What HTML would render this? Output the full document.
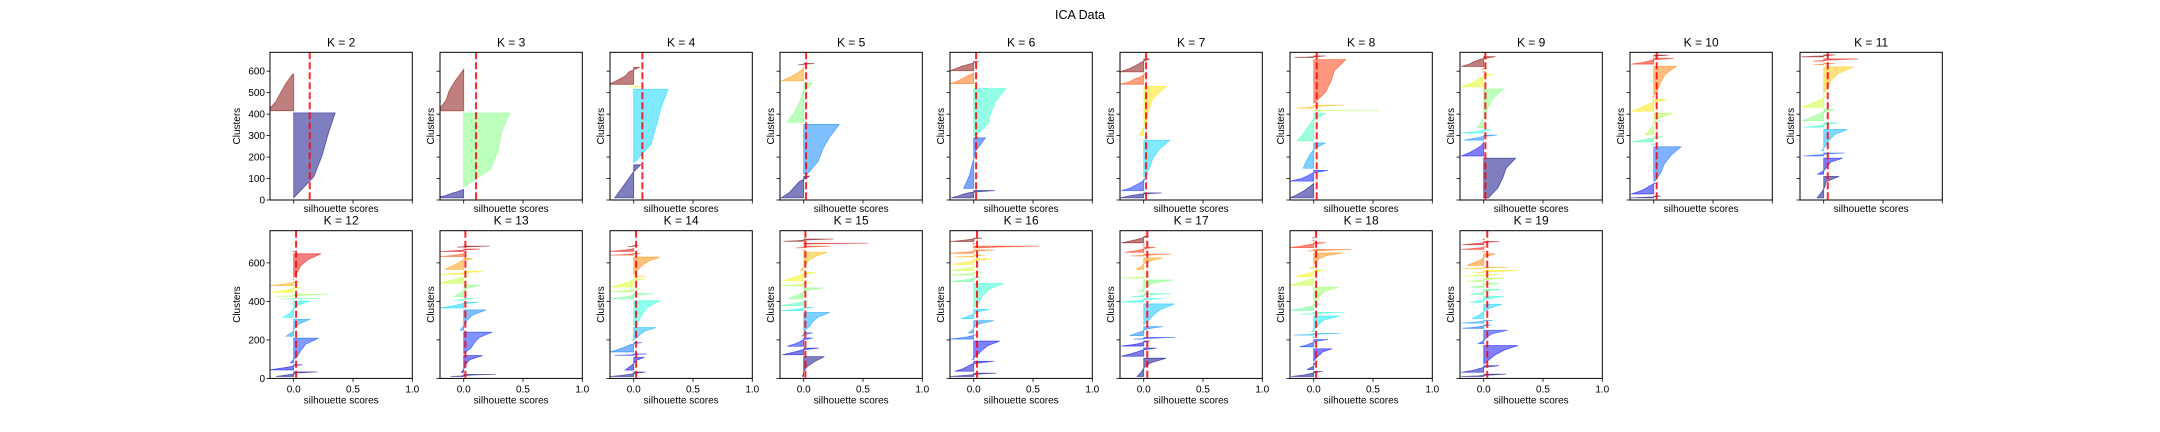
<!DOCTYPE html>
<html><head><meta charset="utf-8"><title>ICA Data</title>
<style>
html,body{margin:0;padding:0;background:#fff;}
svg{display:block;font-family:"Liberation Sans","DejaVu Sans",sans-serif;}
</style></head>
<body>
<svg id="fig" width="2160" height="432" viewBox="0 0 2160 432" xmlns="http://www.w3.org/2000/svg">
<rect width="2160" height="432" fill="#fff"/>
<text x="1080" y="19" font-size="12.5" text-anchor="middle" fill="#000">ICA Data</text>
</svg>
<script>
const kValues = [2,3,4,5,6,7,8,9,10,11,12,13,14,15,16,17,18,19];
const avgScores = [0.135,0.104,0.073,0.02,0.02,0.02,0.025,0.014,0.025,0.034,0.02,0.014,0.02,0.014,0.028,0.03,0.02,0.03];
const xTicks = [0.0,0.5,1.0];
const xTickLabels = ["0.0","0.5","1.0"];
const yTicksTop = [0,100,200,300,400,500,600];
const yTicksBottom = [0,200,400,600];

const k2Sizes=[396,170];
const k2Vals=[[0.0,0.17,0.24,0.29,0.35],[-0.22,-0.15,-0.11,-0.065,-0.01]];
const k3Sizes=[39,346,194];
const k3Vals=[[-0.25,-0.16,-0.11,-0.05,-0.005],[0.0,0.23,0.29,0.32,0.39],[-0.22,-0.15,-0.12,-0.065,0.0]];
const k4Sizes=[154,342,3,79];
const k4Vals=[[-0.16,-0.11,-0.06,-0.01,0.06],[0.005,0.146,0.19,0.23,0.29],[-0.045,0,0.02,0.05,0.085],[-0.21,-0.135,-0.07,-0.037,0.05]];
const k5Sizes=[101,231,183,65,6];
const k5Vals=[[-0.19,-0.12,-0.08,-0.037,0.05],[0.03,0.12,0.16,0.22,0.3],[-0.14,-0.08,-0.037,-0.01,0.075],[-0.19,-0.12,-0.065,-0.02,0.005],[-0.05,0,0.02,0.05,0.09]];
const k6Sizes=[34,236,219,3,50,43];
const k6Vals=[[-0.19,-0.13,-0.09,-0.03,0.18],[-0.085,-0.037,-0.01,0.02,0.1],[0.02,0.12,0.146,0.19,0.27],[-0.02,0,0,0.01,0.02],[-0.2,-0.135,-0.09,-0.05,0.005],[-0.2,-0.15,-0.1,-0.03,0.04]];
const k7Sizes=[23,54,171,3,228,48,60];
const k7Vals=[[-0.2,-0.15,-0.1,-0.03,0.15],[-0.19,-0.11,-0.065,-0.02,0.015],[0.005,0.05,0.076,0.13,0.22],[-0.01,0,0,0,0.01],[-0.04,0.02,0.04,0.076,0.19],[-0.2,-0.12,-0.08,-0.02,0.01],[-0.2,-0.12,-0.065,-0.02,0.05]];
const k8Sizes=[68,50,118,127,5,14,202,7];
const k8Vals=[[-0.2,-0.135,-0.08,-0.037,0.0],[-0.2,-0.1,-0.05,-0.01,0.12],[-0.09,-0.065,-0.037,0.0,0.1],[-0.14,-0.09,-0.05,-0.01,0.1],[-0.01,0,0.02,0.2,0.555],[-0.15,-0.05,0.0,0.1,0.26],[0.005,0.1,0.146,0.175,0.27],[-0.16,-0.05,0,0.05,0.1]];
const k9Sizes=[185,64,23,15,180,59,3,3,46];
const k9Vals=[[0.04,0.12,0.16,0.19,0.27],[-0.19,-0.12,-0.065,-0.02,0.0],[-0.17,-0.1,-0.05,0.0,0.11],[-0.19,-0.1,-0.04,0.0,0.07],[-0.056,0.005,0.034,0.076,0.165],[-0.19,-0.12,-0.065,-0.02,0.076],[-0.02,0,0,0,0.02],[-0.02,0,0,0,0.02],[-0.19,-0.12,-0.08,-0.02,0.1]];
const k10Sizes=[8,50,160,3,23,100,54,145,27,5];
const k10Vals=[[-0.2,-0.1,0,0.02,0.06],[-0.19,-0.12,-0.07,-0.037,0.014],[0.01,0.06,0.09,0.146,0.23],[-0.02,0,0,0,0.02],[-0.19,-0.12,-0.08,-0.01,0.085],[-0.07,-0.03,0.005,0.034,0.16],[-0.19,-0.12,-0.065,-0.01,0.11],[-0.01,0.034,0.06,0.1,0.19],[-0.19,-0.1,-0.05,0.0,0.17],[0.01,0.04,0.07,0.1,0.127]];
const k11Sizes=[100,75,14,100,20,53,53,125,7,10,9];
const k11Vals=[[-0.056,-0.02,0.01,0.02,0.13],[-0.05,0.005,0.03,0.06,0.16],[-0.17,-0.08,0,0.05,0.175],[-0.017,0.02,0.048,0.09,0.2],[-0.17,-0.065,0,0.05,0.124],[-0.18,-0.12,-0.065,-0.01,0.096],[-0.19,-0.12,-0.065,-0.01,0.02],[0.0,0.034,0.06,0.12,0.25],[-0.085,-0.03,0,0.05,0.1],[-0.09,0,0.05,0.15,0.29],[-0.19,-0.1,0,0.05,0.1]];
const k12Sizes=[24,27,128,88,85,4,11,25,20,3,122,3];
const k12Vals=[[-0.15,-0.08,-0.01,0.03,0.2],[-0.21,-0.13,-0.06,-0.01,0.075],[-0.03,0.03,0.06,0.1,0.21],[-0.065,-0.01,0.01,0.05,0.14],[-0.09,-0.037,0,0.034,0.14],[-0.11,0,0.05,0.1,0.23],[-0.14,0,0.05,0.15,0.29],[-0.2,-0.12,-0.06,-0.01,0.06],[-0.2,-0.12,-0.06,-0.01,0.05],[-0.01,0,0,0,0.01],[0.0,0.034,0.06,0.12,0.23],[-0.01,0,0,0,0.01]];
const k13Sizes=[11,88,111,106,29,10,59,36,16,57,16,13,5];
const k13Vals=[[-0.11,-0.02,0.02,0.1,0.27],[-0.02,0.005,0.02,0.05,0.16],[0.0,0.06,0.09,0.13,0.24],[-0.03,0.005,0.03,0.076,0.19],[-0.2,-0.12,-0.065,-0.01,0.127],[-0.085,-0.03,0,0.04,0.085],[-0.085,-0.037,0,0.034,0.14],[-0.2,-0.15,-0.093,-0.037,0.04],[-0.2,-0.1,0,0.08,0.165],[-0.16,-0.11,-0.065,-0.02,0.076],[-0.2,-0.12,-0.06,-0.02,0.005],[-0.2,-0.1,-0.03,0.05,0.14],[-0.056,0.03,0.1,0.15,0.22]];
const k14Sizes=[23,67,7,50,67,129,27,15,42,4,89,10,15,5];
const k14Vals=[[-0.2,-0.1,-0.03,0.02,0.1],[-0.073,-0.037,0,0.02,0.09],[-0.16,-0.05,0,0.05,0.11],[-0.2,-0.135,-0.08,-0.03,0.07],[-0.01,0.034,0.06,0.1,0.19],[0.02,0.048,0.076,0.12,0.22],[-0.2,-0.1,-0.04,0.0,0.17],[-0.2,-0.1,-0.03,0.0,0.06],[-0.19,-0.12,-0.065,-0.02,0.1],[0,0.03,0.05,0.08,0.1],[0.01,0.034,0.07,0.12,0.22],[-0.2,-0.1,-0.03,0.0,0.06],[-0.2,-0.12,-0.06,-0.02,0.0],[-0.05,-0.02,0,0.02,0.04]];
const k15Sizes=[103,34,43,17,95,17,24,57,17,43,95,3,9,5,12];
const k15Vals=[[-0.01,0.0,0.03,0.09,0.175],[-0.18,-0.12,-0.06,-0.01,0.127],[-0.14,-0.08,-0.037,-0.01,0.076],[-0.02,0,0.02,0.05,0.076],[0.005,0.05,0.076,0.12,0.22],[-0.19,-0.1,-0.04,0.0,0.085],[-0.19,-0.12,-0.06,-0.01,0.04],[-0.13,-0.08,-0.02,0.02,0.16],[-0.19,-0.1,-0.03,0.0,0.076],[-0.18,-0.12,-0.065,-0.017,0.1],[-0.03,0.005,0.034,0.09,0.2],[-0.01,0,0,0,0.01],[-0.065,0,0.05,0.12,0.225],[0.0,0.05,0.15,0.3,0.54],[-0.17,-0.05,0.02,0.1,0.25]];
const k16Sizes=[17,52,95,22,64,48,125,24,14,21,29,9,17,10,4,17];
const k16Vals=[[-0.2,-0.1,-0.02,0.05,0.19],[-0.16,-0.09,-0.05,-0.01,0.17],[-0.01,0.034,0.07,0.12,0.22],[-0.2,-0.12,-0.06,-0.02,0.02],[-0.045,-0.01,0.01,0.05,0.17],[-0.11,-0.05,0,0.034,0.13],[0.01,0.048,0.076,0.13,0.25],[-0.19,-0.1,-0.04,0,0.06],[-0.2,-0.1,-0.03,0,0.07],[-0.2,-0.12,-0.06,-0.01,0.02],[-0.18,-0.1,-0.03,0.03,0.16],[-0.16,-0.05,0,0.05,0.09],[-0.2,-0.1,-0.02,0.05,0.17],[0.0,0.1,0.2,0.35,0.55],[-0.01,0,0,0,0.01],[-0.2,-0.12,-0.06,-0.01,0.07]];
const k17Sizes=[95,43,26,9,46,108,17,17,60,9,3,3,60,9,26,3,34];
const k17Vals=[[-0.056,-0.02,0.005,0.06,0.19],[-0.19,-0.12,-0.06,-0.01,0.11],[-0.19,-0.1,-0.04,0,0.055],[-0.085,0,0.08,0.15,0.265],[-0.12,-0.06,-0.01,0.03,0.16],[0.0,0.05,0.09,0.146,0.26],[-0.19,-0.1,-0.03,0.02,0.16],[-0.11,-0.03,0.03,0.1,0.23],[-0.045,0.0,0.04,0.09,0.245],[-0.19,-0.1,-0.03,0,0.05],[-0.01,0,0,0,0.01],[-0.01,0,0,0,0.01],[-0.065,-0.02,0.0,0.06,0.16],[-0.11,-0.02,0.05,0.12,0.23],[-0.16,-0.08,-0.02,0.02,0.1],[-0.01,0,0,0,0.01],[-0.19,-0.12,-0.06,-0.01,0.04]];
const k18Sizes=[26,34,64,38,3,9,80,9,31,80,34,34,10,60,7,26,3,3];
const k18Vals=[[-0.19,-0.1,-0.04,0.0,0.075],[-0.056,-0.03,0,0.005,0.01],[0,0.02,0.05,0.076,0.155],[-0.12,-0.06,-0.02,0.02,0.12],[-0.01,0,0,0,0.01],[-0.17,-0.05,0.02,0.1,0.225],[-0.017,0.02,0.048,0.09,0.22],[-0.11,0,0.08,0.15,0.265],[-0.2,-0.12,-0.06,-0.01,0.06],[0.005,0.034,0.06,0.1,0.21],[-0.2,-0.15,-0.1,-0.05,0.0],[-0.16,-0.1,-0.05,0.0,0.085],[-0.037,-0.02,0,0.005,0.02],[0.0,0.02,0.05,0.1,0.245],[-0.05,0.05,0.12,0.2,0.315],[-0.2,-0.12,-0.06,0.0,0.1],[-0.01,0,0,0,0.01],[-0.01,0,0,0,0.01]];
const k19Sizes=[12,34,95,69,17,14,74,31,27,21,17,9,10,7,60,3,14,17,3];
const k19Vals=[[-0.19,-0.05,0.02,0.1,0.19],[-0.19,-0.1,-0.05,0.0,0.13],[0.005,0.05,0.1,0.175,0.29],[-0.045,0.005,0.03,0.076,0.2],[-0.18,-0.1,-0.04,0,0.06],[-0.19,-0.1,-0.04,0,0.076],[-0.1,-0.037,0.005,0.06,0.155],[-0.12,-0.04,0.02,0.08,0.175],[-0.11,-0.04,0.01,0.06,0.15],[-0.11,-0.04,0.01,0.06,0.14],[-0.14,-0.05,0.01,0.08,0.175],[-0.18,-0.05,0.02,0.08,0.13],[-0.09,0.02,0.1,0.2,0.28],[-0.18,-0.05,0.03,0.1,0.2],[-0.14,-0.08,-0.02,0.005,0.1],[-0.01,0,0,0,0.01],[-0.19,-0.1,-0.04,0,0.01],[-0.18,-0.1,-0.03,0.02,0.13],[-0.01,0,0,0,0.01]];

const allSizes=[k2Sizes,k3Sizes,k4Sizes,k5Sizes,k6Sizes,k7Sizes,k8Sizes,k9Sizes,k10Sizes,k11Sizes,k12Sizes,k13Sizes,k14Sizes,k15Sizes,k16Sizes,k17Sizes,k18Sizes,k19Sizes];
const allVals=[k2Vals,k3Vals,k4Vals,k5Vals,k6Vals,k7Vals,k8Vals,k9Vals,k10Vals,k11Vals,k12Vals,k13Vals,k14Vals,k15Vals,k16Vals,k17Vals,k18Vals,k19Vals];

const NS="http://www.w3.org/2000/svg";
const svg=document.getElementById('fig');
function mk(tag,attrs,parent){const e=document.createElementNS(NS,tag);for(const k in attrs)e.setAttribute(k,attrs[k]);(parent||svg).appendChild(e);return e;}
function interp(x,pts){for(let i=0;i<pts.length-1;i++){if(x<=pts[i+1][0]){const t=(x-pts[i][0])/(pts[i+1][0]-pts[i][0]);return pts[i][1]+t*(pts[i+1][1]-pts[i][1]);}}return pts[pts.length-1][1];}
function jet(v){
  const r=interp(v,[[0,0],[0.35,0],[0.66,1],[0.89,1],[1,0.5]]);
  const g=interp(v,[[0,0],[0.125,0],[0.375,1],[0.64,1],[0.91,0],[1,0]]);
  const b=interp(v,[[0,0.5],[0.11,1],[0.34,1],[0.65,0],[1,0]]);
  return 'rgb('+Math.round(r*255)+','+Math.round(g*255)+','+Math.round(b*255)+')';
}
const X0=-0.2, X1=1.0;
const rows=[{top:52.3,bottom:200,ymax:688,ticks:yTicksTop},{top:230.7,bottom:378.4,ymax:767,ticks:yTicksBottom}];
const AXW=142.3;

kValues.forEach((K,idx)=>{
  const row=idx<10?0:1, col=idx<10?idx:idx-10;
  const R=rows[row];
  const left=270+170*col, right=left+AXW;
  const xs=v=>left+(v-X0)/(X1-X0)*AXW;
  const ys=v=>R.bottom-v/R.ymax*(R.bottom-R.top);
  const g=mk('g',{});
  
  
  const cid='clip'+K;
  const cp=mk('clipPath',{id:cid},g);
  mk('rect',{x:left,y:R.top,width:AXW,height:R.bottom-R.top},cp);
  const marks=mk('g',{'clip-path':'url(#'+cid+')'},g);
  let yl=10;
  const sizes=allSizes[idx], vals=allVals[idx];
  sizes.forEach((s,ci)=>{
    const q=vals[ci];
    const yu=yl+s;
    const fr=[0,0.25,0.5,0.75,1];
    let pts=[[xs(0),ys(yl)]];
    q.forEach((v,j)=>pts.push([xs(v),ys(yl+fr[j]*s)]));
    pts.push([xs(0),ys(yu)]);
    const col=jet(K>1?ci/(K-1):0);
    const p=mk('polygon',{points:pts.map(p=>p[0].toFixed(2)+','+p[1].toFixed(2)).join(' '),fill:col,'fill-opacity':0.5,stroke:col,'stroke-opacity':0.55,'stroke-width':0.8},marks);
    
    
    yl=yu+10;
  });
  const avg=mk('line',{x1:xs(avgScores[idx]),x2:xs(avgScores[idx]),y1:R.top,y2:R.bottom,stroke:'#ff0000','stroke-width':2,'stroke-dasharray':'7,3','stroke-opacity':0.85},g);
  
  
  const frame=mk('rect',{x:left,y:R.top,width:AXW,height:R.bottom-R.top,fill:'none',stroke:'#000','stroke-width':1},g);
  
  
  xTicks.forEach((t,ti)=>{
    const x=xs(t);
    mk('line',{x1:x,x2:x,y1:R.bottom,y2:R.bottom+3.5,stroke:'#000','stroke-width':0.8},g);
    if(row===1){
      const tl=mk('text',{x:x,y:R.bottom+14,'font-size':10,'text-anchor':'middle',fill:'#000'},g);
      tl.textContent=xTickLabels[ti];
      
      
    }
  });
  R.ticks.forEach(t=>{
    const y=ys(t);
    mk('line',{x1:left-3.5,x2:left,y1:y,y2:y,stroke:'#000','stroke-width':0.8},g);
    if(col===0){
      const tl=mk('text',{x:left-5,y:y+3.5,'font-size':10,'text-anchor':'end',fill:'#000'},g);
      tl.textContent=String(t);
      
      
    }
  });
  const xl=mk('text',{x:left+AXW/2,y:row===0?R.bottom+12:R.bottom+25,'font-size':10,'text-anchor':'middle',fill:'#000'},g);
  xl.textContent='silhouette scores';
  
  
  const lx=col===0?left-30:left-6;
  const ylb=mk('text',{x:lx,y:(R.top+R.bottom)/2,'font-size':10,'text-anchor':'middle',fill:'#000',transform:'rotate(-90 '+lx+' '+((R.top+R.bottom)/2)+')'},g);
  ylb.textContent='Clusters';
  
  
  const tt=mk('text',{x:left+AXW/2,y:R.top-6,'font-size':12,'text-anchor':'middle',fill:'#000'},g);
  tt.textContent='K = '+K;
  
  
});
</script>
</body></html>
